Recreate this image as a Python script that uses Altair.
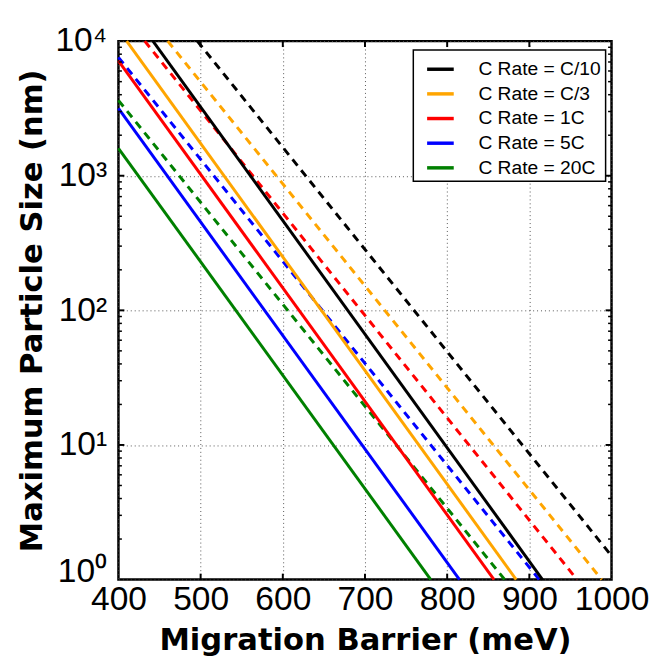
import altair as alt
import pandas as pd

# ---- data ----
rates = ["C Rate = C/10", "C Rate = C/3", "C Rate = 1C", "C Rate = 5C", "C Rate = 20C"]
colors = ["#000000", "#FFA500", "#FF0000", "#0000FF", "#008000"]

# solid lines: (start barrier, start size) -> (end barrier, end size)
solid_x_start = [442, 410, 400, 400, 400]
solid_y_start = [10000, 10000, 7130, 3160, 1600]
solid_x_end = [916, 884, 857, 815, 780]
solid_y_end = [1, 1, 1, 1, 1]

# dashed lines
dashed_x_start = [496, 460, 432, 400, 400]
dashed_y_start = [10000, 10000, 10000, 7580, 3630]
dashed_x_end = [1000, 988, 958, 912, 870]
dashed_y_end = [1.5, 1, 1, 1, 1]

x_ticks = [400, 500, 600, 700, 800, 900, 1000]
y_ticks = [1, 10, 100, 1000, 10000]
y_minor = [m * 10 ** k for k in range(4) for m in range(2, 10)]

# ---- tables ----
solid_rows, dashed_rows = [], []
for i, r in enumerate(rates):
    solid_rows.append({"rate": r, "barrier": solid_x_start[i], "size": solid_y_start[i]})
    solid_rows.append({"rate": r, "barrier": solid_x_end[i], "size": solid_y_end[i]})
    dashed_rows.append({"rate2": r, "barrier": dashed_x_start[i], "size": dashed_y_start[i]})
    dashed_rows.append({"rate2": r, "barrier": dashed_x_end[i], "size": dashed_y_end[i]})
solid_df = pd.DataFrame(solid_rows)
dashed_df = pd.DataFrame(dashed_rows)
xt_df = pd.DataFrame({"barrier": x_ticks[1:-1]})
yt_df = pd.DataFrame({"size": y_ticks[1:-1]})
ym_df = pd.DataFrame({"size": y_minor})

FONT = "Liberation Sans"
TFONT = "DejaVu Sans"
W, H = 500, 546

xscale = alt.Scale(domain=[400, 1000], nice=False, zero=False)
yscale = alt.Scale(type="log", domain=[1, 10000], nice=False)

common = dict(
    grid=True, ticks=False, domain=False, labelOverlap=False, labelFlush=False,
    gridDash=[1, 3], gridColor="#555555", gridWidth=1,
    labelFontSize=34, labelColor="black", labelFont=FONT,
    titleFontSize=31, titleFontWeight="bold", titleColor="black", titleFont=TFONT,
)
x_axis = alt.Axis(values=x_ticks, title="Migration Barrier (meV)", format="d",
                  labelPadding=3, titlePadding=10, **common)
y_axis = alt.Axis(
    values=y_ticks, title="Maximum Particle Size (nm)",
    labelExpr="'10' + ['⁰','¹','²','³','⁴'][round(log(datum.value)/LN10)]",
    labelOffset={"condition": {"test": "datum.value == 1", "value": -8}, "value": 0},
    labelPadding=12, titlePadding=7, **common,
)

x_enc = alt.X("barrier:Q", scale=xscale, axis=x_axis)
y_enc = alt.Y("size:Q", scale=yscale, axis=y_axis)

solid = alt.Chart(solid_df).mark_line(strokeWidth=3).encode(
    x=x_enc, y=y_enc,
    color=alt.Color(
        "rate:N", scale=alt.Scale(domain=rates, range=colors),
        legend=alt.Legend(
            title=None, orient="none", legendX=299, legendY=9,
            symbolType="stroke", symbolStrokeWidth=3.5, symbolSize=729,
            labelFontSize=19.5, labelFont=FONT, labelColor="black",
            labelOffset=23, rowPadding=0, padding=4, symbolOffset=8,
            strokeColor="black", fillColor="white",
        ),
    ),
)

dashed = alt.Chart(dashed_df).mark_line(strokeWidth=3, strokeDash=[8, 6]).encode(
    x=x_enc, y=y_enc,
    color=alt.Color("rate2:N", scale=alt.Scale(domain=rates, range=colors), legend=None),
)

tick_style = dict(color="black", strokeWidth=2)
x_bottom = alt.Chart(xt_df).mark_rule(**tick_style).encode(x=x_enc, y=alt.value(H), y2=alt.value(H - 6))
x_top = alt.Chart(xt_df).mark_rule(**tick_style).encode(x=x_enc, y=alt.value(0), y2=alt.value(6))
y_left = alt.Chart(yt_df).mark_rule(**tick_style).encode(y=y_enc, x=alt.value(0), x2=alt.value(6))
y_right = alt.Chart(yt_df).mark_rule(**tick_style).encode(y=y_enc, x=alt.value(W), x2=alt.value(W - 6))
ym_left = alt.Chart(ym_df).mark_rule(color="black", strokeWidth=1.5).encode(y=y_enc, x=alt.value(0), x2=alt.value(3.5))
ym_right = alt.Chart(ym_df).mark_rule(color="black", strokeWidth=1.5).encode(y=y_enc, x=alt.value(W), x2=alt.value(W - 3.5))

chart = (
    alt.layer(dashed, solid, x_bottom, x_top, y_left, y_right, ym_left, ym_right)
    .resolve_scale(color="independent")
    .properties(width=W, height=H, padding={"left": 8, "top": 12, "right": 0, "bottom": 2})
    .configure(font=FONT)
    .configure_view(stroke="black", strokeWidth=2.5)
    .configure_legend(strokeWidth=1.5)
)

chart.save("out.html", embed_options={"renderer": "svg", "actions": False})
